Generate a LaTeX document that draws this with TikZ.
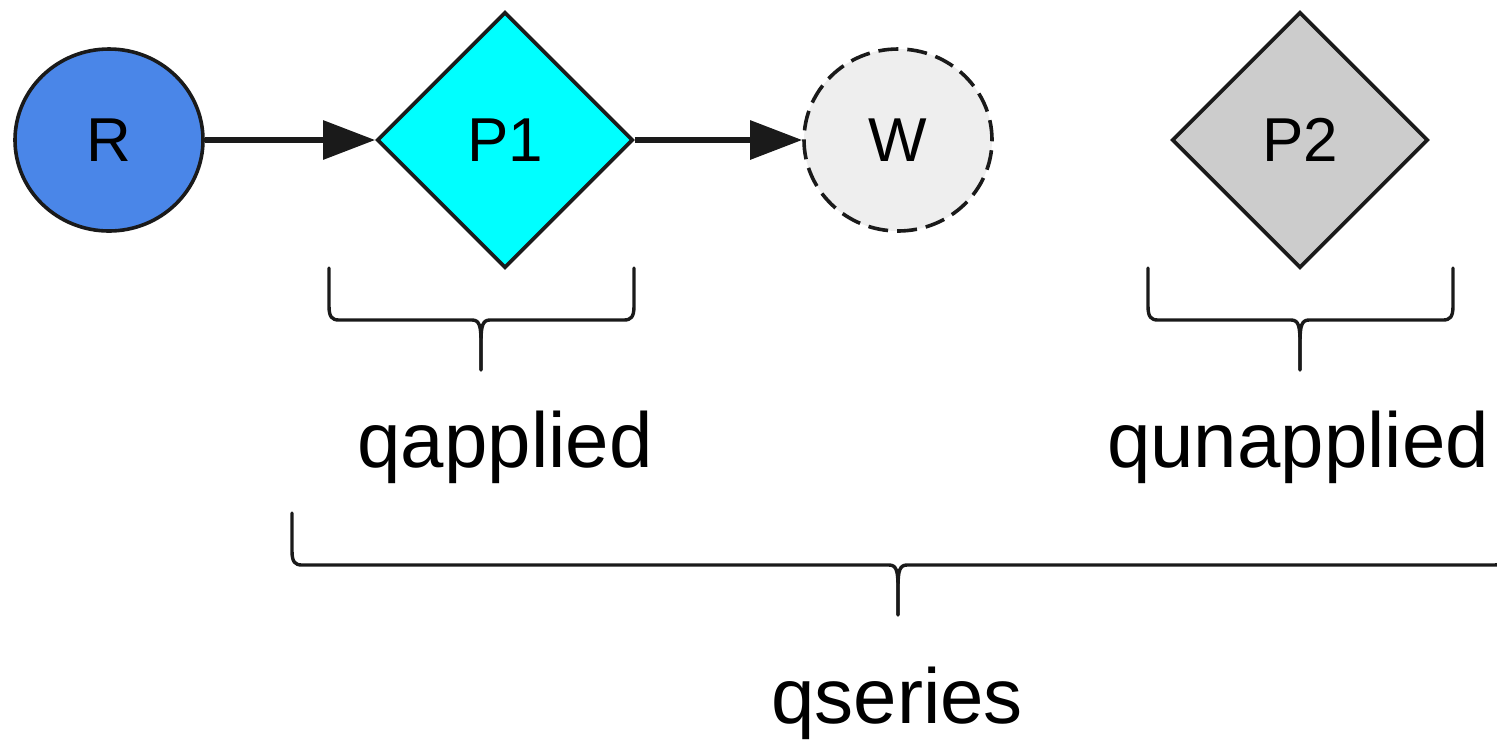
\documentclass[tikz,border=0pt]{standalone}
\usepackage{fontspec}
\setmainfont{Liberation Sans}
\usetikzlibrary{shapes.geometric,arrows.meta}

\definecolor{edgeink}{HTML}{1A1A1A}
\definecolor{rblue}{HTML}{4A86E8}
\definecolor{pcyan}{HTML}{00FFFF}
\definecolor{wgrey}{HTML}{EEEEEE}
\definecolor{pgrey}{HTML}{CCCCCC}

% one curly brace opening upward: left x, middle x, right x, top y, bar y, tip y
\newcommand\groupbrace[6]{%
  \draw[brace line] (#1,#4) -- (#1,#5-14)
    .. controls (#1,#5-3) and (#1+3,#5) .. (#1+10,#5) -- (#2-9,#5)
    .. controls (#2-2,#5) and (#2,#5+5) .. (#2,#5+22) -- (#2,#6);
  \draw[brace line] (#3,#4) -- (#3,#5-14)
    .. controls (#3,#5-3) and (#3-3,#5) .. (#3-10,#5) -- (#2+9,#5)
    .. controls (#2+2,#5) and (#2,#5+5) .. (#2,#5+22) -- (#2,#6);
}

\tikzset{
  state/.style={ellipse, draw=edgeink, line width=1.8pt, minimum width=94pt,
    minimum height=91pt, inner sep=0pt, font=\fontsize{31}{31}\selectfont},
  gate/.style={diamond, aspect=1, draw=edgeink, line width=1.8pt,
    minimum size=128pt, inner sep=0pt, font=\fontsize{31}{31}\selectfont},
  flow/.style={draw=edgeink, line width=3pt,
    -{Triangle[length=26pt,width=19pt]}, shorten >=0pt},
  brace line/.style={draw=edgeink, line width=1.7pt, line cap=round, line join=round},
  tag/.style={anchor=base, inner sep=0pt, font=\fontsize{39}{39}\selectfont}
}

\begin{document}
\begin{tikzpicture}[x=0.5pt, y=-0.5pt]
  \useasboundingbox (0,0) rectangle (1497,746);
  \clip (0,0) rectangle (1497,746);

  % queue entries
  \node[state, fill=rblue] (R) at (109,140) {R};
  \node[gate, fill=pcyan] (P1) at (505,140) {P1};
  \node[state, fill=wgrey, dash pattern=on 10pt off 4.5pt] (W) at (898,140) {W};
  \node[gate, fill=pgrey] (P2) at (1300,140) {P2};

  % order of application
  \draw[flow] (R) -- (P1.west);
  \draw[flow] (P1.east) -- (W);

  % groupings
  \groupbrace{329}{481}{634}{268}{320}{370}
  \groupbrace{1148}{1300}{1453}{268}{320}{370}
  \groupbrace{292}{898}{1504}{513}{565}{615}

  \node[tag] (qa) at (505,467) {qapplied};
  \node[tag] (qu) at (1298,467) {qunapplied};
  \node[tag] (qs) at (897,723) {qseries};
\end{tikzpicture}
\end{document}
